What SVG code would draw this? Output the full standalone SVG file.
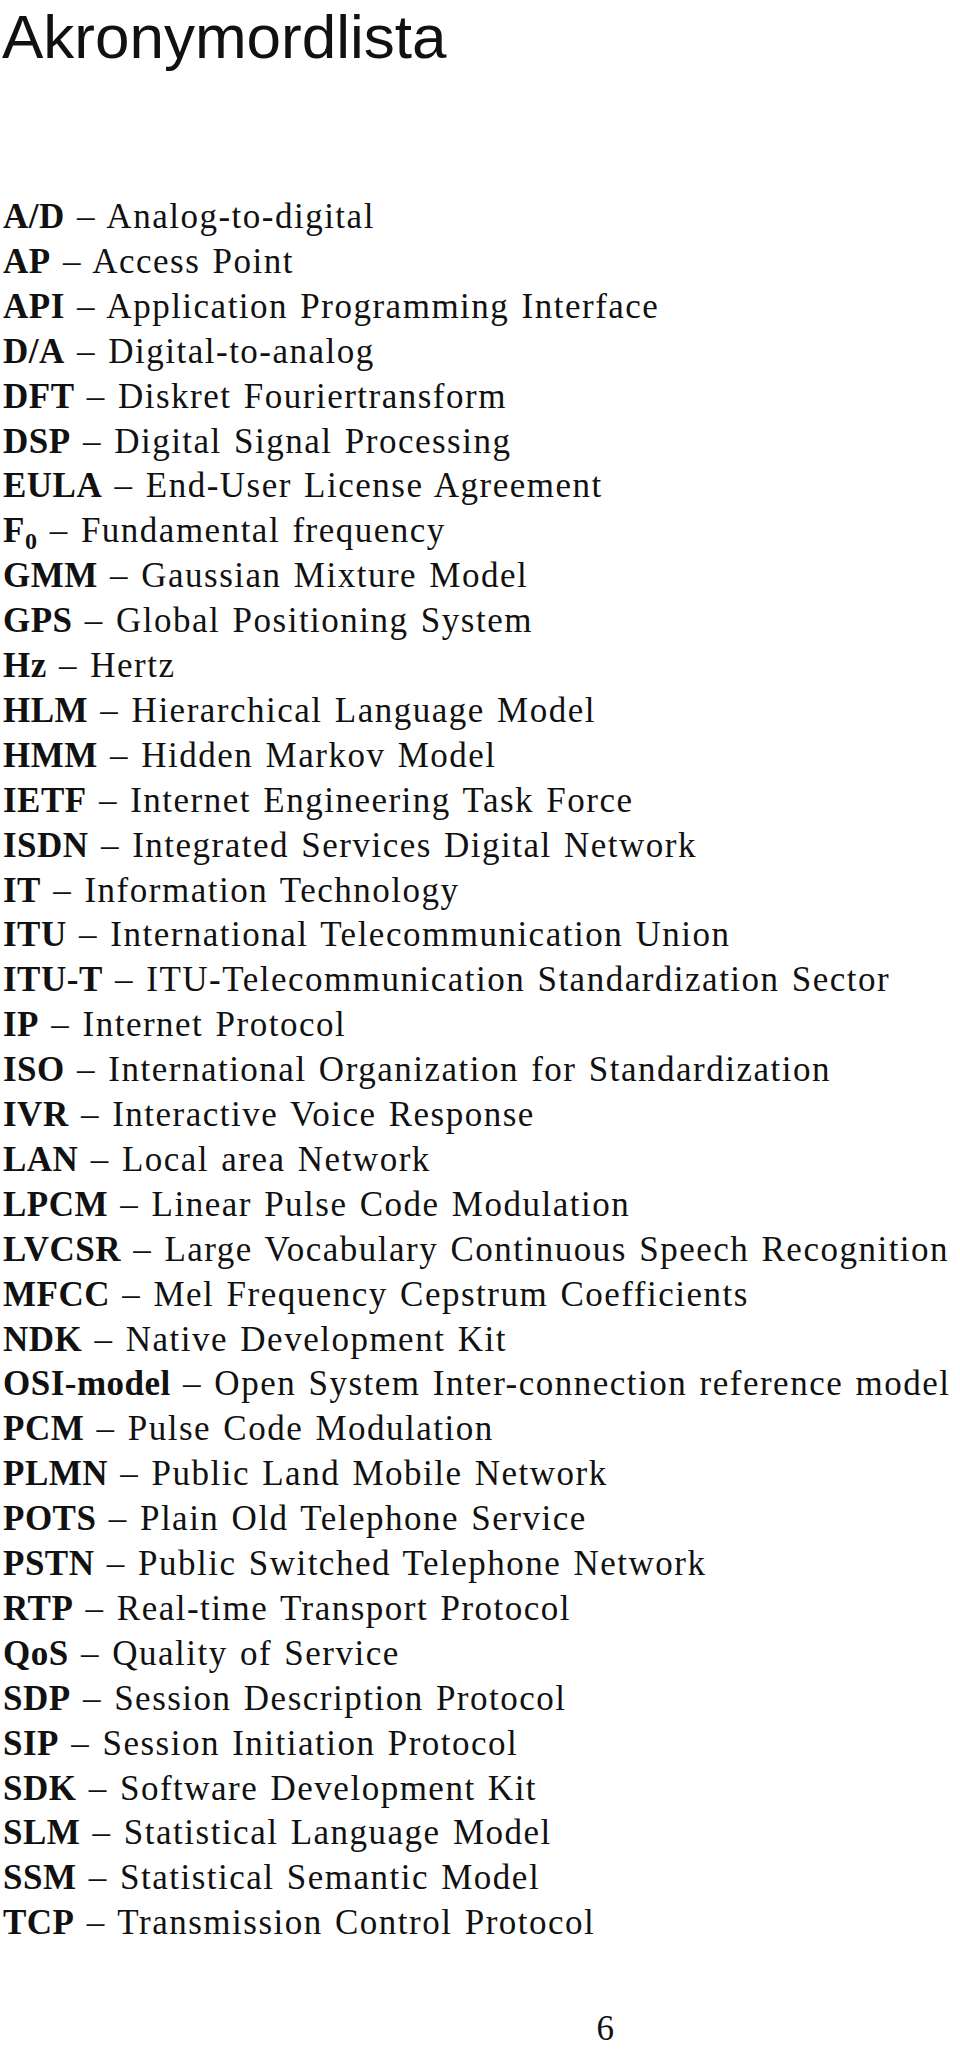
<svg xmlns="http://www.w3.org/2000/svg" width="960" height="2054" viewBox="0 0 960 2054">
<style>
.t{font-family:"Liberation Serif",serif;font-size:35px;letter-spacing:1.5px;word-spacing:2px;fill:#111}
.b{font-weight:bold;letter-spacing:0.5px}
.h{font-family:"Liberation Sans",sans-serif;font-size:62px;fill:#111}
</style>
<rect width="960" height="2054" fill="#fff"/>
<text class="h" x="2" y="58">Akronymordlista</text>
<g id="list" class="t">
<text x="3" y="228"><tspan class="b">A/D</tspan>  – Analog-to-digital</text>
<text x="3" y="272.9"><tspan class="b">AP</tspan>  – Access Point</text>
<text x="3" y="317.8"><tspan class="b">API</tspan>  – Application Programming Interface</text>
<text x="3" y="362.7"><tspan class="b">D/A</tspan>  – Digital-to-analog</text>
<text x="3" y="407.6"><tspan class="b">DFT</tspan>  – Diskret Fouriertransform</text>
<text x="3" y="452.5"><tspan class="b">DSP</tspan>  – Digital Signal Processing</text>
<text x="3" y="497.4"><tspan class="b">EULA</tspan>  – End-User License Agreement</text>
<text x="3" y="542.3"><tspan class="b">F<tspan font-size="24" dy="7">0</tspan></tspan><tspan dy="-7">  – Fundamental frequency</tspan></text>
<text x="3" y="587.2"><tspan class="b">GMM</tspan>  – Gaussian Mixture Model</text>
<text x="3" y="632.1"><tspan class="b">GPS</tspan>  – Global Positioning System</text>
<text x="3" y="677"><tspan class="b">Hz</tspan>  – Hertz</text>
<text x="3" y="721.9"><tspan class="b">HLM</tspan>  – Hierarchical Language Model</text>
<text x="3" y="766.8"><tspan class="b">HMM</tspan>  – Hidden Markov Model</text>
<text x="3" y="811.7"><tspan class="b">IETF</tspan>  – Internet Engineering Task Force</text>
<text x="3" y="856.6"><tspan class="b">ISDN</tspan>  – Integrated Services Digital Network</text>
<text x="3" y="901.5"><tspan class="b">IT</tspan>  – Information Technology</text>
<text x="3" y="946.4"><tspan class="b">ITU</tspan>  – International Telecommunication Union</text>
<text x="3" y="991.3"><tspan class="b">ITU-T</tspan>  – ITU-Telecommunication Standardization Sector</text>
<text x="3" y="1036.2"><tspan class="b">IP</tspan>  – Internet Protocol</text>
<text x="3" y="1081.1"><tspan class="b">ISO</tspan>  – International Organization for Standardization</text>
<text x="3" y="1126"><tspan class="b">IVR</tspan>  – Interactive Voice Response</text>
<text x="3" y="1170.9"><tspan class="b">LAN</tspan>  – Local area Network</text>
<text x="3" y="1215.8"><tspan class="b">LPCM</tspan>  – Linear Pulse Code Modulation</text>
<text x="3" y="1260.7"><tspan class="b">LVCSR</tspan>  – Large Vocabulary Continuous Speech Recognition</text>
<text x="3" y="1305.6"><tspan class="b">MFCC</tspan>  – Mel Frequency Cepstrum Coefficients</text>
<text x="3" y="1350.5"><tspan class="b">NDK</tspan>  – Native Development Kit</text>
<text x="3" y="1395.4"><tspan class="b">OSI-model</tspan>  – Open System Inter-connection reference model</text>
<text x="3" y="1440.3"><tspan class="b">PCM</tspan>  – Pulse Code Modulation</text>
<text x="3" y="1485.2"><tspan class="b">PLMN</tspan>  – Public Land Mobile Network</text>
<text x="3" y="1530.1"><tspan class="b">POTS</tspan>  – Plain Old Telephone Service</text>
<text x="3" y="1575"><tspan class="b">PSTN</tspan>  – Public Switched Telephone Network</text>
<text x="3" y="1619.9"><tspan class="b">RTP</tspan>  – Real-time Transport Protocol</text>
<text x="3" y="1664.8"><tspan class="b">QoS</tspan>  – Quality of Service</text>
<text x="3" y="1709.7"><tspan class="b">SDP</tspan>  – Session Description Protocol</text>
<text x="3" y="1754.6"><tspan class="b">SIP</tspan>  – Session Initiation Protocol</text>
<text x="3" y="1799.5"><tspan class="b">SDK</tspan>  – Software Development Kit</text>
<text x="3" y="1844.4"><tspan class="b">SLM</tspan>  – Statistical Language Model</text>
<text x="3" y="1889.3"><tspan class="b">SSM</tspan>  – Statistical Semantic Model</text>
<text x="3" y="1934.2"><tspan class="b">TCP</tspan>  – Transmission Control Protocol</text>
</g>
<text class="t" x="606" y="2040" text-anchor="middle">6</text>
</svg>
